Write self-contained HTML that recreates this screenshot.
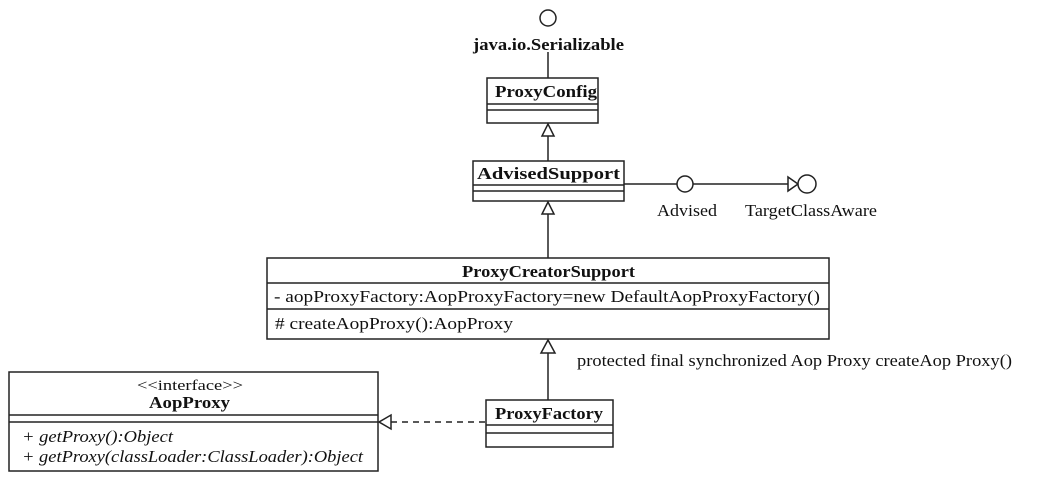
<!DOCTYPE html>
<html><head><meta charset="utf-8"><style>
html,body{margin:0;padding:0;background:#fff;}
svg{display:block;}
text{font-family:"Liberation Serif",serif;fill:#111;}
.b{font-weight:bold;}
</style></head><body>
<svg width="1040" height="484" viewBox="0 0 1040 484" xmlns="http://www.w3.org/2000/svg">
<g stroke="#222" stroke-width="1.5" fill="none">
  <circle cx="548" cy="18" r="8" fill="#fff"/>
  <line x1="548" y1="52" x2="548" y2="78"/>
  <rect x="487" y="78" width="111" height="45" fill="#fff"/>
  <line x1="487" y1="104" x2="598" y2="104"/>
  <line x1="487" y1="110" x2="598" y2="110"/>
  <polygon points="548,124 542,136 554,136" fill="#fff"/>
  <line x1="548" y1="136" x2="548" y2="161"/>
  <rect x="473" y="161" width="151" height="40" fill="#fff"/>
  <line x1="473" y1="185" x2="624" y2="185"/>
  <line x1="473" y1="191" x2="624" y2="191"/>
  <line x1="624" y1="184" x2="677" y2="184"/>
  <circle cx="685" cy="184" r="8" fill="#fff"/>
  <line x1="693" y1="184" x2="788" y2="184"/>
  <polygon points="788,177 798,184 788,191" fill="#fff"/>
  <circle cx="807" cy="184" r="9" fill="#fff"/>
  <polygon points="548,202 542,214 554,214" fill="#fff"/>
  <line x1="548" y1="214" x2="548" y2="258"/>
  <rect x="267" y="258" width="562" height="81" fill="#fff"/>
  <line x1="267" y1="283" x2="829" y2="283"/>
  <line x1="267" y1="309" x2="829" y2="309"/>
  <polygon points="548,340 541,353 555,353" fill="#fff"/>
  <line x1="548" y1="353" x2="548" y2="400"/>
  <rect x="486" y="400" width="127" height="47" fill="#fff"/>
  <line x1="486" y1="425" x2="613" y2="425"/>
  <line x1="486" y1="433" x2="613" y2="433"/>
  <rect x="9" y="372" width="369" height="99" fill="#fff"/>
  <line x1="9" y1="415" x2="378" y2="415"/>
  <line x1="9" y1="422" x2="378" y2="422"/>
  <line x1="391" y1="422" x2="486" y2="422" stroke-dasharray="6,5"/>
  <polygon points="379,422 391,415 391,429" fill="#fff"/>
</g>
<g lengthAdjust="spacingAndGlyphs">
<text class="b" x="473" y="50" font-size="17" textLength="151" lengthAdjust="spacingAndGlyphs">java.io.Serializable</text>
<text class="b" x="495" y="97" font-size="17" textLength="102" lengthAdjust="spacingAndGlyphs">ProxyConfig</text>
<text class="b" x="477" y="179" font-size="17" textLength="143" lengthAdjust="spacingAndGlyphs">AdvisedSupport</text>
<text x="657" y="216" font-size="17" textLength="60" lengthAdjust="spacingAndGlyphs">Advised</text>
<text x="745" y="216" font-size="17" textLength="132" lengthAdjust="spacingAndGlyphs">TargetClassAware</text>
<text class="b" x="462" y="277" font-size="17" textLength="173" lengthAdjust="spacingAndGlyphs">ProxyCreatorSupport</text>
<text x="274" y="302" font-size="17" textLength="546" lengthAdjust="spacingAndGlyphs">- aopProxyFactory:AopProxyFactory=new DefaultAopProxyFactory()</text>
<text x="275" y="329" font-size="17" textLength="238" lengthAdjust="spacingAndGlyphs"># createAopProxy():AopProxy</text>
<text x="577" y="366" font-size="17" textLength="435" lengthAdjust="spacingAndGlyphs">protected final synchronized Aop Proxy createAop Proxy()</text>
<text class="b" x="495" y="419" font-size="17" textLength="108" lengthAdjust="spacingAndGlyphs">ProxyFactory</text>
<text x="137" y="390" font-size="15" textLength="106" lengthAdjust="spacingAndGlyphs">&lt;&lt;interface&gt;&gt;</text>
<text class="b" x="149" y="408" font-size="17" textLength="81" lengthAdjust="spacingAndGlyphs">AopProxy</text>
<text x="22" y="442" font-size="17" font-style="italic" textLength="151" lengthAdjust="spacingAndGlyphs">+ getProxy():Object</text>
<text x="22" y="462" font-size="17" font-style="italic" textLength="341" lengthAdjust="spacingAndGlyphs">+ getProxy(classLoader:ClassLoader):Object</text>
</g>
</svg>
</body></html>
